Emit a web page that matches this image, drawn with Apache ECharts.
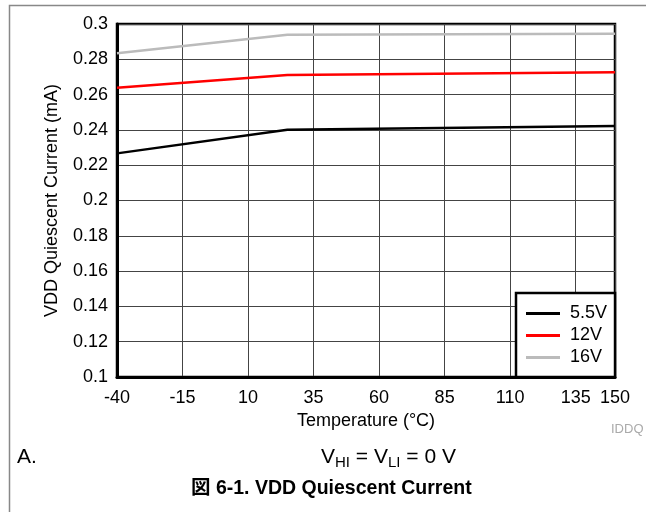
<!DOCTYPE html>
<html>
<head>
<meta charset="utf-8">
<script src="https://cdn.jsdelivr.net/npm/echarts@6/dist/echarts.min.js"></script>
<style>
  html, body { margin: 0; padding: 0; background: #fff; }
  #chart { width: 646px; height: 512px; }
</style>
</head>
<body>
<div id="chart"></div>
<script>
// Temperature sweep points (°C)
const temperatures = [-40, 25, 150];
// Quiescent current (mA) per supply voltage
const current55 = [0.2267, 0.2401, 0.2422];
const current12 = [0.2639, 0.2711, 0.2726];
const current16 = [0.2834, 0.2939, 0.2945];
const seriesNames = ['5.5V', '12V', '16V'];
const seriesColors = ['#000000', '#ff0000', '#bbbbbb'];
// Axis ranges
const xMin = -40, xMax = 150, xStep = 25;
const yMin = 0.1, yMax = 0.3, yStep = 0.02;

const FONT = '"Liberation Sans", Arial, "Noto Sans CJK JP", sans-serif';

function pairs(values) {
  return temperatures.map((t, i) => [t, values[i]]);
}

const allValues = [current55, current12, current16];

const chart = echarts.init(document.getElementById('chart'), null, { renderer: 'canvas' });

chart.setOption({
  backgroundColor: '#ffffff',
  animation: false,
  textStyle: { fontFamily: FONT },
  grid: {
    left: 117, right: 31, top: 24, bottom: 135,
    show: true, borderColor: '#000', borderWidth: 2.5,
    backgroundColor: 'transparent'
  },
  xAxis: {
    type: 'value',
    min: xMin, max: xMax, interval: xStep,
    name: 'Temperature (°C)',
    nameLocation: 'middle',
    nameGap: 32,
    nameTextStyle: { fontSize: 18, color: '#000', fontFamily: FONT },
    axisLine: { show: true, onZero: false, lineStyle: { color: '#000', width: 3 } },
    axisTick: { show: false },
    axisLabel: { show: true, showMaxLabel: true, margin: 12, fontSize: 18, color: '#000', fontFamily: FONT },
    splitLine: { show: true, lineStyle: { color: '#444', width: 1 } }
  },
  yAxis: {
    type: 'value',
    min: yMin, max: yMax, interval: yStep,
    name: 'VDD Quiescent Current (mA)',
    nameLocation: 'middle',
    nameGap: 56,
    nameTextStyle: { fontSize: 18, color: '#000', fontFamily: FONT },
    axisLine: { show: true, onZero: false, lineStyle: { color: '#000', width: 3 } },
    axisTick: { show: false },
    axisLabel: {
      margin: 9, fontSize: 18, color: '#000', fontFamily: FONT,
      formatter: v => String(+v.toFixed(2))
    },
    splitLine: { show: true, lineStyle: { color: '#444', width: 1 } }
  },
  legend: {
    orient: 'vertical',
    left: 516, top: 293,
    padding: [11, 8, 10, 10],
    itemGap: 3,
    itemWidth: 34, itemHeight: 3,
    icon: 'rect',
    backgroundColor: '#fff',
    borderColor: '#000', borderWidth: 2.5,
    textStyle: { fontSize: 18, lineHeight: 19, color: '#000', fontFamily: FONT, padding: [0, 0, 0, 5] },
    data: seriesNames,
    z: 10
  },
  series: seriesNames.map((name, i) => ({
    name,
    type: 'line',
    data: pairs(allValues[i]),
    symbol: 'none',
    color: seriesColors[i],
    lineStyle: { color: seriesColors[i], width: 2.5 },
    z: 3 + i
  })),
  graphic: [
    {
      type: 'rect', silent: true, z: 100,
      shape: { x: 9.5, y: 5.5, width: 700, height: 600 },
      style: { fill: 'none', stroke: '#888', lineWidth: 1.5 }
    },
    {
      type: 'text', left: 611, top: 423, z: 100,
      style: { text: 'IDDQ', fontSize: 13, fill: '#aaa', fontFamily: FONT }
    },
    {
      type: 'text', left: 17, top: 447, z: 100,
      style: { text: 'A.', fontSize: 21, fill: '#000', fontFamily: FONT }
    },
    {
      type: 'text', left: 321, top: 445, z: 100,
      style: {
        text: '{n|V}{s|HI}{n| = V}{s|LI}{n| = 0 V}',
        fontFamily: FONT,
        rich: {
          n: { fontSize: 21, lineHeight: 25, fill: '#000', fontFamily: FONT },
          s: { fontSize: 15, lineHeight: 15, padding: [10, 0, 0, 0], fill: '#000', fontFamily: FONT }
        }
      }
    },
    {
      type: 'text', left: 191, top: 479, z: 100,
      style: {
        text: '図 6-1. VDD Quiescent Current',
        fontSize: 19.5, fontWeight: 'bold', fill: '#000', fontFamily: FONT
      }
    }
  ]
});
</script>
</body>
</html>
